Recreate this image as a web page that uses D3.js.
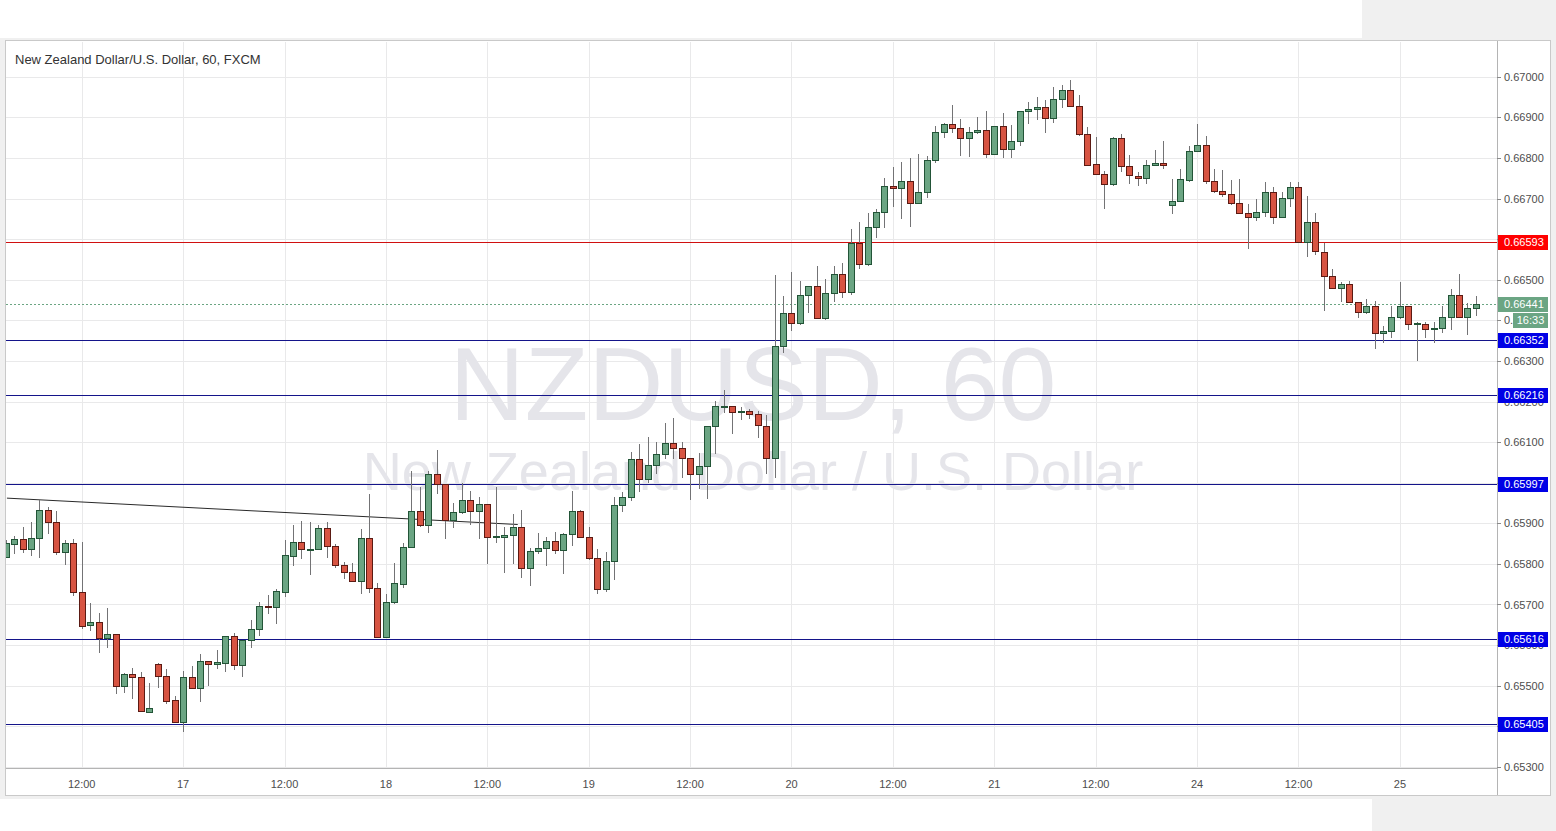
<!DOCTYPE html>
<html><head><meta charset="utf-8">
<script src="https://cdn.jsdelivr.net/npm/d3@7/dist/d3.min.js"></script>
<style>html,body{margin:0;padding:0;background:#fff;overflow:hidden}svg{display:block}</style>
</head><body>
<svg id="chart" width="1556" height="831"></svg>
<script>
// ---------- DATA (hourly candles, index 0 = 16th 12:00) ----------
const firstIndex = -9;
const opens = [0.65818,0.65848,0.65861,0.65836,0.65863,0.65933,0.65902,0.65830,0.65851,
0.65730,0.65649,0.65656,0.65617,0.65627,0.65500,0.65529,0.65521,0.65436,0.65554,0.65525,0.65465,
0.65410,0.65521,0.65494,0.65560,0.65554,0.65557,0.65622,0.65550,0.65613,0.65639,0.65696,0.65693,
0.65731,0.65820,0.65853,0.65836,0.65836,0.65888,0.65843,0.65797,0.65779,0.65757,0.65863,0.65740,
0.65619,0.65706,0.65750,0.65842,0.65930,0.65895,0.66021,0.65996,0.65908,0.65927,0.65957,0.65930,
0.65947,0.65868,0.65866,0.65870,0.65890,0.65789,0.65832,0.65838,0.65857,0.65834,0.65873,0.65930,
0.65867,0.65814,0.65737,0.65808,0.65944,0.65964,0.66058,0.66008,0.66043,0.66070,0.66097,0.66085,
0.66060,0.66021,0.66042,0.66140,0.66189,0.66189,0.66175,0.66177,0.66169,0.66140,0.66060,0.66337,
0.66417,0.66393,0.66462,0.66485,0.66405,0.66467,0.66513,0.66469,0.66591,0.66538,0.66631,0.66666,
0.66731,0.66725,0.66743,0.66688,0.66715,0.66795,0.66865,0.66884,0.66873,0.66848,0.66863,0.66869,
0.66810,0.66879,0.66822,0.66842,0.66916,0.66920,0.66925,0.66899,0.66944,0.66967,0.66929,0.66858,
0.66784,0.66760,0.66735,0.66848,0.66780,0.66756,0.66750,0.66783,0.66788,0.66684,0.66694,0.66746,
0.66817,0.66832,0.66744,0.66719,0.66710,0.66690,0.66665,0.66655,0.66666,0.66715,0.66655,0.66701,
0.66729,0.66592,0.66641,0.66569,0.66510,0.66479,0.66489,0.66444,0.66420,0.66436,0.66368,0.66374,
0.66409,0.66435,0.66391,0.66391,0.66378,0.66380,0.66409,0.66462,0.66407,0.66430];
const highs = [0.65859,0.65869,0.65892,0.65904,0.65957,0.65939,0.65930,0.65859,0.65861,
0.65855,0.65703,0.65678,0.65691,0.65628,0.65532,0.65544,0.65533,0.65507,0.65555,0.65540,0.65475,
0.65536,0.65549,0.65577,0.65561,0.65588,0.65622,0.65631,0.65613,0.65662,0.65705,0.65723,0.65737,
0.65859,0.65896,0.65905,0.65904,0.65896,0.65902,0.65849,0.65805,0.65802,0.65885,0.65972,0.65752,
0.65726,0.65803,0.65851,0.66030,0.65990,0.66029,0.66081,0.65997,0.65949,0.66000,0.65980,0.65966,
0.65948,0.65990,0.65892,0.65922,0.65933,0.65838,0.65877,0.65867,0.65879,0.65877,0.65980,0.65933,
0.65890,0.65836,0.65829,0.65964,0.65978,0.66076,0.66095,0.66112,0.66101,0.66148,0.66159,0.66101,
0.66061,0.66074,0.66140,0.66202,0.66228,0.66190,0.66186,0.66181,0.66177,0.66167,0.66512,0.66460,
0.66520,0.66498,0.66485,0.66534,0.66501,0.66534,0.66542,0.66624,0.66643,0.66664,0.66673,0.66750,
0.66778,0.66791,0.66799,0.66810,0.66805,0.66879,0.66885,0.66930,0.66895,0.66877,0.66900,0.66916,
0.66879,0.66910,0.66881,0.66916,0.66938,0.66949,0.66943,0.66975,0.66980,0.66992,0.66955,0.66877,
0.66852,0.66768,0.66852,0.66858,0.66807,0.66766,0.66795,0.66819,0.66842,0.66747,0.66772,0.66829,
0.66884,0.66854,0.66772,0.66770,0.66746,0.66749,0.66686,0.66700,0.66741,0.66729,0.66715,0.66741,
0.66741,0.66706,0.66664,0.66590,0.66526,0.66495,0.66497,0.66445,0.66452,0.66448,0.66387,0.66435,
0.66495,0.66436,0.66397,0.66397,0.66397,0.66434,0.66476,0.66514,0.66443,0.66460];
const lows = [0.65817,0.65827,0.65830,0.65822,0.65818,0.65875,0.65824,0.65800,0.65724,
0.65641,0.65636,0.65584,0.65596,0.65483,0.65485,0.65469,0.65438,0.65434,0.65496,0.65458,0.65410,
0.65389,0.65494,0.65462,0.65502,0.65543,0.65535,0.65540,0.65525,0.65595,0.65625,0.65678,0.65654,
0.65721,0.65797,0.65814,0.65775,0.65836,0.65818,0.65793,0.65765,0.65757,0.65729,0.65731,0.65619,
0.65619,0.65704,0.65744,0.65842,0.65893,0.65878,0.65974,0.65863,0.65892,0.65925,0.65898,0.65863,
0.65802,0.65855,0.65781,0.65802,0.65768,0.65748,0.65828,0.65797,0.65826,0.65778,0.65847,0.65866,
0.65811,0.65729,0.65734,0.65762,0.65931,0.65957,0.65980,0.66002,0.66023,0.66060,0.66060,0.66013,
0.65959,0.65986,0.65962,0.66074,0.66175,0.66123,0.66156,0.66159,0.66113,0.66023,0.66015,0.66323,
0.66376,0.66392,0.66421,0.66405,0.66404,0.66448,0.66458,0.66464,0.66528,0.66537,0.66606,0.66631,
0.66682,0.66653,0.66633,0.66688,0.66704,0.66789,0.66851,0.66865,0.66807,0.66805,0.66862,0.66803,
0.66809,0.66802,0.66803,0.66832,0.66885,0.66895,0.66865,0.66889,0.66926,0.66929,0.66856,0.66783,
0.66760,0.66676,0.66734,0.66768,0.66737,0.66733,0.66739,0.66782,0.66776,0.66665,0.66693,0.66744,
0.66816,0.66737,0.66717,0.66706,0.66686,0.66664,0.66577,0.66647,0.66658,0.66639,0.66654,0.66682,
0.66592,0.66559,0.66563,0.66425,0.66479,0.66448,0.66444,0.66409,0.66417,0.66333,0.66347,0.66358,
0.66405,0.66378,0.66302,0.66358,0.66347,0.66372,0.66378,0.66407,0.66366,0.66413];
const closes = [0.65851,0.65861,0.65836,0.65863,0.65933,0.65902,0.65830,0.65852,0.65730,
0.65648,0.65656,0.65617,0.65627,0.65500,0.65529,0.65521,0.65438,0.65444,0.65525,0.65463,0.65410,
0.65521,0.65494,0.65560,0.65554,0.65558,0.65622,0.65550,0.65613,0.65639,0.65696,0.65693,0.65733,
0.65821,0.65853,0.65836,0.65837,0.65888,0.65843,0.65797,0.65779,0.65757,0.65863,0.65740,0.65619,
0.65705,0.65752,0.65842,0.65930,0.65895,0.66021,0.65996,0.65908,0.65927,0.65957,0.65930,0.65947,
0.65867,0.65869,0.65870,0.65890,0.65789,0.65832,0.65838,0.65857,0.65834,0.65873,0.65930,0.65867,
0.65814,0.65737,0.65808,0.65944,0.65964,0.66058,0.66008,0.66043,0.66070,0.66097,0.66085,0.66060,
0.66021,0.66042,0.66140,0.66189,0.66190,0.66173,0.66176,0.66169,0.66142,0.66060,0.66337,0.66417,
0.66393,0.66462,0.66485,0.66405,0.66467,0.66513,0.66469,0.66591,0.66538,0.66631,0.66666,0.66730,
0.66725,0.66743,0.66688,0.66715,0.66795,0.66865,0.66884,0.66873,0.66848,0.66863,0.66869,0.66810,
0.66879,0.66822,0.66842,0.66916,0.66920,0.66925,0.66899,0.66944,0.66967,0.66929,0.66858,0.66783,
0.66760,0.66735,0.66848,0.66780,0.66758,0.66750,0.66783,0.66788,0.66783,0.66694,0.66747,0.66817,
0.66832,0.66744,0.66719,0.66710,0.66690,0.66665,0.66655,0.66666,0.66715,0.66655,0.66701,0.66729,
0.66592,0.66641,0.66571,0.66510,0.66479,0.66489,0.66444,0.66420,0.66436,0.66368,0.66374,0.66409,
0.66435,0.66391,0.66393,0.66378,0.66380,0.66409,0.66462,0.66407,0.66430,0.66441];

const timeTickIndex  = [0, 12, 24, 36, 48, 60, 72, 84, 96, 108, 120, 132, 144, 156];
const timeTickLabels = ["12:00","17","12:00","18","12:00","19","12:00","20","12:00","21","12:00","24","12:00","25"];
const priceTicks = [0.653,0.654,0.655,0.656,0.657,0.658,0.659,0.660,0.661,0.662,0.663,0.664,0.665,0.666,0.667,0.668,0.669,0.670];

const levelPrices = [0.66593, 0.66352, 0.66216, 0.65997, 0.65616, 0.65405];
const levelIsRed  = [true, false, false, false, false, false];

const trendIndex = [-8.85, 51.6];
const trendPrice = [0.65962, 0.65897];

const lastPrice = 0.66441;
const countdownText = "16:33";
const titleText = "New Zealand Dollar/U.S. Dollar, 60, FXCM";
const watermarkMain = "NZDUSD, 60";
const watermarkSub = "New Zealand Dollar / U.S. Dollar";

// ---------- LAYOUT ----------
const W = 1556, H = 831;
const plotL = 6, plotR = 1497, plotT = 42, plotB = 768;
const panelR = 1550, panelB = 795;
const FONT = "'Liberation Sans', Arial, sans-serif";

const candles = opens.map((o, k) => ({i: firstIndex + k, o, h: highs[k], l: lows[k], c: closes[k]}));

const x = d3.scaleLinear().domain([0, 165]).range([81.7, 81.7 + 165 * 8.45]);
const y = d3.scaleLinear().domain([0.653, 0.670]).range([766.9, 76.7]);

const svg = d3.select("#chart");

// page background pieces
svg.append("rect").attr("x",0).attr("y",0).attr("width",W).attr("height",H).attr("fill","#ffffff");
svg.append("rect").attr("x",1362).attr("y",0).attr("width",W-1362).attr("height",38).attr("fill","#f0f0f0");
svg.append("rect").attr("x",1372).attr("y",799).attr("width",W-1372).attr("height",H-799).attr("fill","#f0f0f0");
svg.append("rect").attr("x",0).attr("y",38).attr("width",W).attr("height",761).attr("fill","#f0f0f0");

// panel
svg.append("rect").attr("x",5.5).attr("y",40.5).attr("width",panelR-5).attr("height",panelB-40)
  .attr("fill","#ffffff").attr("stroke","#c9c9c9");

svg.append("defs").append("clipPath").attr("id","plotClip")
  .append("rect").attr("x",plotL).attr("y",plotT).attr("width",plotR-plotL).attr("height",plotB-plotT);

const plot = svg.append("g").attr("clip-path","url(#plotClip)");

// grid
plot.selectAll("line.hg").data(priceTicks).enter().append("line")
  .attr("x1",plotL).attr("x2",plotR)
  .attr("y1",d=>Math.round(y(d))+0.5).attr("y2",d=>Math.round(y(d))+0.5)
  .attr("stroke","#e9e9ea").attr("stroke-width",1);
plot.selectAll("line.vg").data(timeTickIndex).enter().append("line")
  .attr("y1",plotT).attr("y2",plotB)
  .attr("x1",d=>Math.round(x(d))+0.5).attr("x2",d=>Math.round(x(d))+0.5)
  .attr("stroke","#e9e9ea").attr("stroke-width",1);

// watermark
plot.append("text").attr("x",753).attr("y",420).attr("text-anchor","middle")
  .attr("font-family",FONT).attr("font-size",104).attr("fill","#e5e5ea").text(watermarkMain);
plot.append("text").attr("x",753).attr("y",490).attr("text-anchor","middle")
  .attr("font-family",FONT).attr("font-size",54).attr("fill","#e5e5ea").text(watermarkSub);

// horizontal levels
plot.selectAll("line.lvl").data(levelPrices).enter().append("line")
  .attr("x1",plotL).attr("x2",plotR)
  .attr("y1",d=>Math.round(y(d))+0.5).attr("y2",d=>Math.round(y(d))+0.5)
  .attr("stroke",(d,k)=>levelIsRed[k] ? "#d01010" : "#14148a").attr("stroke-width",1);

// last price dotted line
plot.append("line").attr("x1",plotL).attr("x2",plotR)
  .attr("y1",Math.round(y(lastPrice))+0.5).attr("y2",Math.round(y(lastPrice))+0.5)
  .attr("stroke","#6ba583").attr("stroke-dasharray","2,2");

// trend line
plot.append("line")
  .attr("x1",x(trendIndex[0])).attr("y1",y(trendPrice[0]))
  .attr("x2",x(trendIndex[1])).attr("y2",y(trendPrice[1]))
  .attr("stroke","#2a2a2a").attr("stroke-width",1);

// candles
const cg = plot.append("g");
const upFill="#6ba583", upBorder="#225437", dnFill="#d75442", dnBorder="#5b1a13", wickCol="#737375";
const cs = cg.selectAll("g.c").data(candles).enter().append("g");
cs.append("line")
  .attr("x1",d=>Math.round(x(d.i))+0.5).attr("x2",d=>Math.round(x(d.i))+0.5)
  .attr("y1",d=>Math.round(y(d.h))).attr("y2",d=>Math.round(y(d.l))+1)
  .attr("stroke",wickCol).attr("stroke-width",1);
cs.append("rect")
  .attr("x",d=>Math.round(x(d.i))-2.5)
  .attr("width",6)
  .attr("y",d=>Math.round(y(Math.max(d.o,d.c)))+0.5)
  .attr("height",d=>Math.max(1, Math.round(y(Math.min(d.o,d.c)))-Math.round(y(Math.max(d.o,d.c)))))
  .attr("fill",d=>d.c>=d.o?upFill:dnFill)
  .attr("stroke",d=>d.c>=d.o?upBorder:dnBorder).attr("stroke-width",1);

// axes separators
svg.append("line").attr("x1",plotR+0.5).attr("x2",plotR+0.5).attr("y1",41).attr("y2",panelB)
  .attr("stroke","#b4b4b4");
svg.append("line").attr("x1",6).attr("x2",plotR).attr("y1",plotB+0.5).attr("y2",plotB+0.5)
  .attr("stroke","#b4b4b4");

// price axis (labels under level boxes are clipped away by the boxes, as in the reference)
const pa = svg.append("g");
pa.selectAll("line.t").data(priceTicks).enter().append("line")
  .attr("x1",plotR).attr("x2",plotR+4)
  .attr("y1",d=>Math.round(y(d))+0.5).attr("y2",d=>Math.round(y(d))+0.5).attr("stroke","#8a8a8a");
pa.selectAll("text.t").data(priceTicks).enter().append("text")
  .attr("x",1504).attr("y",d=>y(d)+4)
  .attr("font-family",FONT).attr("font-size",11).attr("fill","#4d4d4d")
  .text(d=>d.toFixed(5));

// time axis
svg.selectAll("text.time").data(timeTickIndex).enter().append("text")
  .attr("x",d=>x(d)).attr("y",788).attr("text-anchor","middle")
  .attr("font-family",FONT).attr("font-size",11).attr("fill","#4d4d4d")
  .text((d,k)=>timeTickLabels[k]);

// level labels
const lab = svg.append("g");
levelPrices.forEach((p,k)=>{
  const yy = Math.round(y(p));
  lab.append("rect").attr("x",1498).attr("y",yy-7).attr("width",50).attr("height",15)
    .attr("fill",levelIsRed[k] ? "#ff0000" : "#0000e6");
  lab.append("text").attr("x",1504).attr("y",yy+4).attr("font-family",FONT).attr("font-size",11)
    .attr("fill","#ffffff").text(p.toFixed(5));
});
{
  const yy = Math.round(y(lastPrice));
  lab.append("rect").attr("x",1498).attr("y",yy-7).attr("width",50).attr("height",15).attr("fill","#6ba583");
  lab.append("text").attr("x",1504).attr("y",yy+4).attr("font-family",FONT).attr("font-size",11)
    .attr("fill","#ffffff").text(lastPrice.toFixed(5));
  lab.append("rect").attr("x",1513).attr("y",yy+9).attr("width",35).attr("height",15).attr("fill","#6ba583");
  lab.append("text").attr("x",1530.5).attr("y",yy+20).attr("text-anchor","middle").attr("font-family",FONT)
    .attr("font-size",11).attr("fill","#ffffff").text(countdownText);
}

// title
svg.append("text").attr("x",15).attr("y",64).attr("font-family",FONT).attr("font-size",13)
  .attr("fill","#333333").text(titleText);
</script>
</body></html>
